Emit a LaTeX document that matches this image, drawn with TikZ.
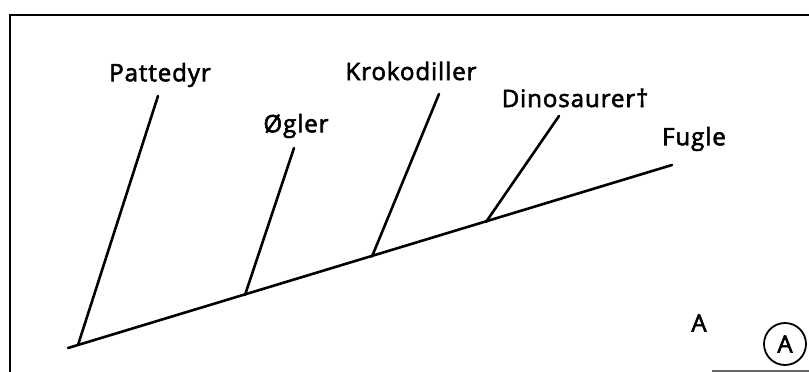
\documentclass[tikz,border=0pt]{standalone}
\usepackage{fontspec}
\setmainfont{Open Sans}[LetterSpace=4,FakeBold=2.5]
\begin{document}
\begin{tikzpicture}[x=1pt,y=-1pt,
  branch/.style={line width=2.6pt,line cap=round},
  frame/.style={line width=2.4pt},
  lbl/.style={font=\fontsize{24}{27}\selectfont,inner sep=0pt}]
\useasboundingbox (0,0) rectangle (809,372);
% frame
\coordinate (ftl) at (10,15);
\coordinate (ftr) at (809,15);
\coordinate (fbl) at (10,372);
\draw[frame] (ftr) -- (ftl) -- (fbl);
\coordinate (fb1) at (712,371);
\coordinate (fb2) at (809,371);
\draw[line width=2pt,black!60] (fb1) -- (fb2);
% tree
\coordinate (root) at (68,348);
\coordinate (fugle) at (672,165);
\coordinate (j1) at (78,345);
\coordinate (j2) at (245,295);
\coordinate (j3) at (372,256.5);
\coordinate (j4) at (486,222);
\coordinate (t1) at (158,96);
\coordinate (t2) at (294,148);
\coordinate (t3) at (439,94);
\coordinate (t4) at (559,116);
\draw[branch] (root) -- (fugle);
\draw[branch] (j1) -- (t1);
\draw[branch] (j2) -- (t2);
\draw[branch] (j3) -- (t3);
\draw[branch] (j4) -- (t4);
% labels
\node[lbl] (lp) at (160,75) {Pattedyr};
\node[lbl] (lo) at (296,126) {Øgler};
\node[lbl] (lk) at (411,71) {Krokodiller};
\node[lbl] (ld) at (575,98) {Dinosaurer†};
\node[lbl] (lf) at (694,139) {Fugle};
\node[lbl] (la) at (699,323) {A};
\node[draw,circle,line width=1.8pt,minimum size=42pt,inner sep=0pt,font=\fontsize{24}{27}\selectfont] (ca) at (785,344) {A};
\end{tikzpicture}
\end{document}
